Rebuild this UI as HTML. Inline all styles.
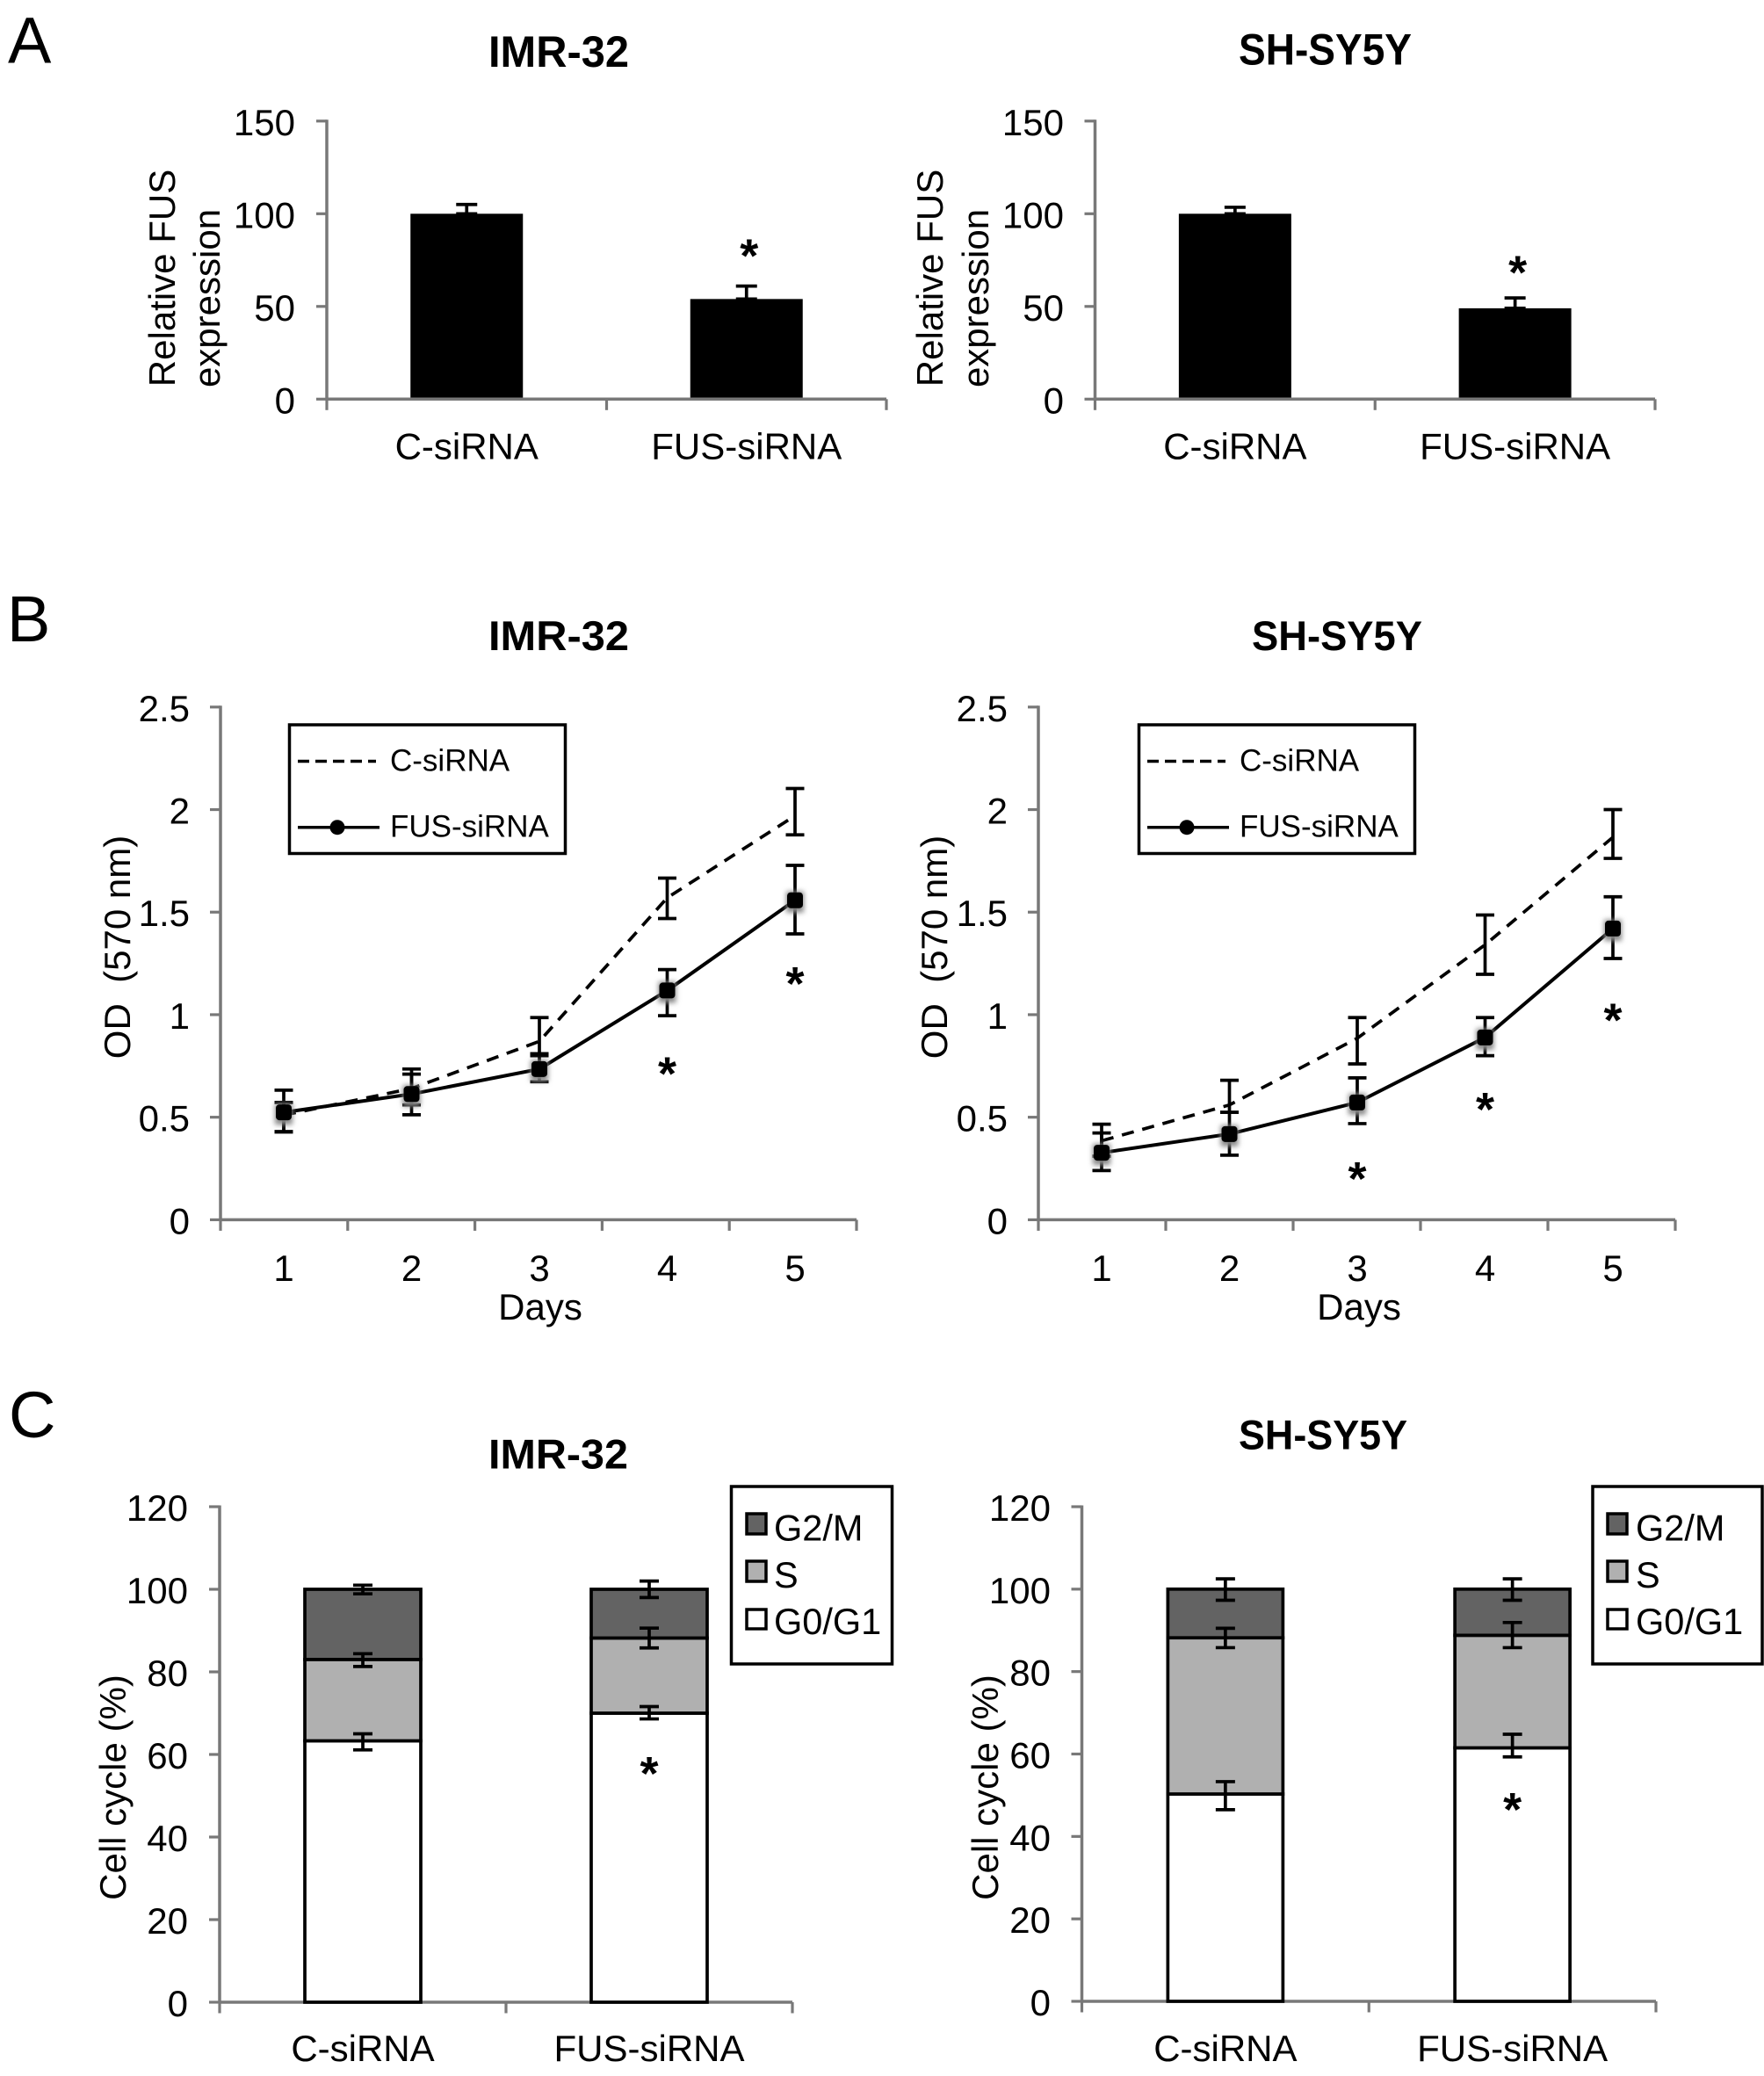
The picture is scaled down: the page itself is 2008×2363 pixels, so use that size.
<!DOCTYPE html>
<html lang="en">
<head>
<meta charset="utf-8">
<title>FUS knockdown figure</title>
<style>
html,body{margin:0;padding:0;background:#fff;}
svg{display:block;}
text{font-family:"Liberation Sans",sans-serif;fill:#000;white-space:pre;}
.title{font-size:47px;font-weight:bold;}
.title-a{font-size:50px;font-weight:bold;}
.panel{font-size:74px;}
.axt{font-size:42px;}
.leg{font-size:35px;}
.leg2{font-size:41.5px;}
</style>
</head>
<body>
<svg id="fig" xmlns="http://www.w3.org/2000/svg" width="2008" height="2363" viewBox="0 0 2008 2363">
<defs><filter id="halo" x="-60%" y="-60%" width="220%" height="220%"><feGaussianBlur stdDeviation="3"/></filter></defs>
<rect x="0" y="0" width="2008" height="2363" fill="#fff"/>

<text class="panel" x="9" y="71.5">A</text>
<text class="panel" x="8" y="730">B</text>
<text class="panel" x="10" y="1636">C</text>

<text class="title-a" x="556" y="76" textLength="160" lengthAdjust="spacingAndGlyphs">IMR-32</text>
<text class="title-a" x="1410" y="73.5" textLength="197" lengthAdjust="spacingAndGlyphs">SH-SY5Y</text>
<text class="title" x="556" y="740" textLength="160" lengthAdjust="spacingAndGlyphs">IMR-32</text>
<text class="title" x="1425" y="740" textLength="194" lengthAdjust="spacingAndGlyphs">SH-SY5Y</text>
<text class="title" x="556" y="1671.5" textLength="159" lengthAdjust="spacingAndGlyphs">IMR-32</text>
<text class="title" x="1410" y="1649.5" textLength="192" lengthAdjust="spacingAndGlyphs">SH-SY5Y</text>

<text class="axt" transform="translate(199,316.5) rotate(-90)" text-anchor="middle">Relative FUS</text>
<text class="axt" transform="translate(250,339.5) rotate(-90)" text-anchor="middle">expression</text>
<text class="axt" transform="translate(1073,316.5) rotate(-90)" text-anchor="middle">Relative FUS</text>
<text class="axt" transform="translate(1125,339.5) rotate(-90)" text-anchor="middle">expression</text>
<text class="axt" transform="translate(148,1078) rotate(-90)" text-anchor="middle">OD  (570 nm)</text>
<text class="axt" transform="translate(1078,1078) rotate(-90)" text-anchor="middle">OD  (570 nm)</text>
<text class="axt" transform="translate(143,2034.5) rotate(-90)" text-anchor="middle">Cell cycle (%)</text>
<text class="axt" transform="translate(1136,2034.5) rotate(-90)" text-anchor="middle">Cell cycle (%)</text>
<text class="axt" x="615" y="1502" text-anchor="middle">Days</text>
<text class="axt" x="1547" y="1502" text-anchor="middle">Days</text>

<g id="charts"></g>

<g>
  <rect x="329.5" y="825" width="314" height="146.5" fill="#fff" stroke="#000" stroke-width="3.5"/>
  <line x1="339" y1="866.5" x2="428" y2="866.5" stroke="#000" stroke-width="3.5" stroke-dasharray="13 7"/>
  <text class="leg" x="444" y="877.5">C-siRNA</text>
  <line x1="339" y1="941.7" x2="432" y2="941.7" stroke="#000" stroke-width="3.5"/>
  <circle cx="384" cy="941.7" r="8.5" fill="#000"/>
  <text class="leg" x="444" y="952.5">FUS-siRNA</text>
</g>
<g>
  <rect x="1296.5" y="825" width="314" height="146.5" fill="#fff" stroke="#000" stroke-width="3.5"/>
  <line x1="1306" y1="866.5" x2="1395" y2="866.5" stroke="#000" stroke-width="3.5" stroke-dasharray="13 7"/>
  <text class="leg" x="1411" y="877.5">C-siRNA</text>
  <line x1="1306" y1="941.7" x2="1399" y2="941.7" stroke="#000" stroke-width="3.5"/>
  <circle cx="1351" cy="941.7" r="8.5" fill="#000"/>
  <text class="leg" x="1411" y="952.5">FUS-siRNA</text>
</g>

<g>
  <rect x="832.5" y="1692" width="183" height="202" fill="#fff" stroke="#000" stroke-width="3.5"/>
  <rect x="850" y="1723" width="22" height="23" fill="#636363" stroke="#000" stroke-width="3.5"/>
  <text class="leg2" x="881" y="1753.5">G2/M</text>
  <rect x="850" y="1777" width="22" height="23" fill="#b0b0b0" stroke="#000" stroke-width="3.5"/>
  <text class="leg2" x="881" y="1807">S</text>
  <rect x="850" y="1832" width="22" height="22" fill="#fff" stroke="#000" stroke-width="3.5"/>
  <text class="leg2" x="881" y="1860">G0/G1</text>
</g>
<g>
  <rect x="1813" y="1692" width="193" height="202" fill="#fff" stroke="#000" stroke-width="3.5"/>
  <rect x="1830" y="1723" width="22" height="23" fill="#636363" stroke="#000" stroke-width="3.5"/>
  <text class="leg2" x="1862" y="1753.5">G2/M</text>
  <rect x="1830" y="1777" width="22" height="23" fill="#b0b0b0" stroke="#000" stroke-width="3.5"/>
  <text class="leg2" x="1862" y="1807">S</text>
  <rect x="1830" y="1832" width="22" height="22" fill="#fff" stroke="#000" stroke-width="3.5"/>
  <text class="leg2" x="1862" y="1860">G0/G1</text>
</g>
</svg>

<script>
// ---------- data ----------
const groupLabels = ['C-siRNA', 'FUS-siRNA'];
const dayLabels = ['1', '2', '3', '4', '5'];
const dayNumbers = [1, 2, 3, 4, 5];

const exprTicks = [0, 50, 100, 150];
const odTicks = [0, 0.5, 1, 1.5, 2, 2.5];
const cycleTicks = [0, 20, 40, 60, 80, 100, 120];

const exprImrValues = [100, 54];
const exprImrErrTop = [105, 61];
const exprImrStarValues = [null, 81];
const exprShValues = [100, 49];
const exprShErrTop = [103.5, 54.6];
const exprShStarValues = [null, 72];

const odImrControl = [0.51, 0.64, 0.87, 1.57, 1.97];
const odImrControlHigh = [0.632, 0.735, 0.986, 1.666, 2.103];
const odImrControlLow = [0.43, 0.56, 0.81, 1.469, 1.877];
const odImrFus = [0.524, 0.613, 0.735, 1.118, 1.558];
const odImrFusHigh = [0.572, 0.71, 0.80, 1.22, 1.728];
const odImrFusLow = [0.428, 0.512, 0.673, 0.995, 1.394];
const odImrStarDays = [4, 5];
const odImrStarValues = [0.746, 1.185];

const odShControl = [0.385, 0.56, 0.885, 1.341, 1.865];
const odShControlHigh = [0.466, 0.68, 0.986, 1.486, 2.0];
const odShControlLow = [0.31, 0.524, 0.76, 1.197, 1.762];
const odShFus = [0.327, 0.418, 0.572, 0.889, 1.42];
const odShFusHigh = [0.423, 0.524, 0.692, 0.986, 1.575];
const odShFusLow = [0.24, 0.315, 0.469, 0.80, 1.274];
const odShStarDays = [3, 4, 5];
const odShStarValues = [0.234, 0.571, 1.006];

const cycleImrG0G1 = [63.3, 70];
const cycleImrS = [19.7, 18.2];
const cycleImrG2M = [17, 11.8];
const cycleImrG0G1Err = [[61.1, 65], [68.6, 71.6]];
const cycleImrSErr = [[81.3, 84.4], [85.8, 90.6]];
const cycleImrG2MErr = [[98.9, 101], [98, 102]];
const cycleImrStarValues = [null, 57];

const cycleShG0G1 = [50.3, 61.5];
const cycleShS = [37.9, 27.3];
const cycleShG2M = [11.8, 11.2];
const cycleShG0G1Err = [[46.5, 53.3], [59.3, 64.8]];
const cycleShSErr = [[85.8, 90.5], [85.8, 91.9]];
const cycleShG2MErr = [[97.3, 102.5], [97.3, 102.5]];
const cycleShStarValues = [null, 48.2];

// ---------- helpers ----------
const NS = 'http://www.w3.org/2000/svg';
const root = document.getElementById('charts');
const AXIS = '#787878';

function mk(parent, tag, attrs, txt) {
  const el = document.createElementNS(NS, tag);
  for (const k in attrs) el.setAttribute(k, attrs[k]);
  if (txt !== undefined) el.textContent = txt;
  parent.appendChild(el);
  
  return el;
}

function linear(d0, d1, r0, r1) {
  return function (v) { return r0 + (v - d0) / (d1 - d0) * (r1 - r0); };
}

function drawAxes(g, geo, ticks, y, catLabels, catX) {
  let el = mk(g, 'line', {x1: geo.x0, y1: geo.y0, x2: geo.x0, y2: geo.yTop - 1.5, stroke: AXIS, 'stroke-width': 3.5});
  
  el = mk(g, 'line', {x1: geo.x0, y1: geo.y0, x2: geo.x1, y2: geo.y0, stroke: AXIS, 'stroke-width': 3.5});
  
  ticks.forEach(function (t) {
    const yy = y(t);
    let tk = mk(g, 'line', {x1: geo.x0 - 12, y1: yy, x2: geo.x0, y2: yy, stroke: AXIS, 'stroke-width': 3.2});
    
    tk = mk(g, 'text', {x: geo.labelRight, y: yy + 16, 'text-anchor': 'end', 'font-size': 42}, String(t));
    
  });
  const n = catLabels.length;
  const step = (geo.x1 - geo.x0) / n;
  for (let i = 0; i <= n; i++) {
    const xx = geo.x0 + i * step;
    const tk = mk(g, 'line', {x1: xx, y1: geo.y0, x2: xx, y2: geo.y0 + 12.5, stroke: AXIS, 'stroke-width': 3.2});
    
  }
  catLabels.forEach(function (lab, i) {
    const tk = mk(g, 'text', {x: catX(i), y: geo.catBase, 'text-anchor': 'middle', 'font-size': geo.catFont}, lab);
    
  });
}

function drawStar(g, cx, cy) {
  const el = mk(g, 'text', {x: cx, y: cy + 26, 'text-anchor': 'middle', 'font-size': 54, 'font-weight': 'bold'}, '*');
  
}

function errBar(g, cx, yHigh, yLow, cap, name) {
  let el = mk(g, 'line', {x1: cx, y1: yHigh, x2: cx, y2: yLow, stroke: '#000', 'stroke-width': 3.7});
  
  el = mk(g, 'line', {x1: cx - cap / 2, y1: yHigh, x2: cx + cap / 2, y2: yHigh, stroke: '#000', 'stroke-width': 3.7});
  
  el = mk(g, 'line', {x1: cx - cap / 2, y1: yLow, x2: cx + cap / 2, y2: yLow, stroke: '#000', 'stroke-width': 3.7});
  
}

// ---------- panel A: simple bars ----------
function barChart(name, geo, values, errTop, stars) {
  const g = mk(root, 'g', {});
  
  const y = linear(0, exprTicks[exprTicks.length - 1], geo.y0, geo.yTop);
  const band = (geo.x1 - geo.x0) / values.length;
  const x = function (i) { return geo.x0 + band * (i + 0.5); };
  values.forEach(function (v, i) {
    errBar(g, x(i), y(errTop[i]), y(v), 24, 'error-bar');
    const bar = mk(g, 'rect', {x: x(i) - geo.barW / 2, y: y(v), width: geo.barW, height: geo.y0 - y(v), fill: '#000'});
    
    if (stars[i] !== null) drawStar(g, x(i) + 3, y(stars[i]));
  });
  drawAxes(g, geo, exprTicks, y, groupLabels, x);
}

// ---------- panel B: lines ----------
function lineChart(name, geo, ctrl, ctrlHi, ctrlLo, fus, fusHi, fusLo, starDays, starVals) {
  const g = mk(root, 'g', {});
  
  const y = linear(0, odTicks[odTicks.length - 1], geo.y0, geo.yTop);
  const x = linear(dayNumbers[0] - 1, dayNumbers[dayNumbers.length - 1] - 1, geo.firstX, geo.lastX);
  const fmt = function (arr) { return arr.map(function (v, i) { return x(i).toFixed(1) + ',' + y(v).toFixed(1); }).join(' '); };
  drawAxes(g, geo, odTicks, y, dayLabels, x);

  let el = mk(g, 'polyline', {points: fmt(ctrl), fill: 'none', stroke: '#000', 'stroke-width': 3.7, 'stroke-dasharray': '14 10'});
  
  el = mk(g, 'polyline', {points: fmt(fus), fill: 'none', stroke: '#000', 'stroke-width': 4});
  

  dayNumbers.forEach(function (d, i) {
    errBar(g, x(i), y(ctrlHi[i]), y(ctrlLo[i]), 21, 'error-bar-c-sirna');
    errBar(g, x(i), y(fusHi[i]), y(fusLo[i]), 21, 'error-bar-fus-sirna');
    const cx = x(i), cy = y(fus[i]);
    let m = mk(g, 'rect', {x: cx - 10, y: cy - 10, width: 20, height: 24, fill: '#888', filter: 'url(#halo)'});
    
    m = mk(g, 'rect', {x: cx - 9, y: cy - 9, width: 18, height: 18, rx: 4, fill: '#000'});
    
  });
  starDays.forEach(function (d, i) {
    drawStar(g, x(dayNumbers.indexOf(d)), y(starVals[i]));
  });
}

// ---------- panel C: stacked bars ----------
function stackChart(name, geo, g0, s, g2, g0Err, sErr, g2Err, stars) {
  const g = mk(root, 'g', {});
  
  const y = linear(0, cycleTicks[cycleTicks.length - 1], geo.y0, geo.yTop);
  const band = (geo.x1 - geo.x0) / groupLabels.length;
  const x = function (i) { return geo.x0 + band * (i + 0.5); };
  drawAxes(g, geo, cycleTicks, y, groupLabels, x);
  groupLabels.forEach(function (lab, i) {
    const left = x(i) - geo.barW / 2;
    const t0 = g0[i], t1 = t0 + s[i], t2 = t1 + g2[i];
    let r = mk(g, 'rect', {x: left, y: y(t0), width: geo.barW, height: y(0) - y(t0), fill: '#fff', stroke: '#000', 'stroke-width': 3.7});
    
    r = mk(g, 'rect', {x: left, y: y(t1), width: geo.barW, height: y(t0) - y(t1), fill: '#b0b0b0', stroke: '#000', 'stroke-width': 3.7});
    
    r = mk(g, 'rect', {x: left, y: y(t2), width: geo.barW, height: y(t1) - y(t2), fill: '#636363', stroke: '#000', 'stroke-width': 3.7});
    
    errBar(g, x(i), y(g0Err[i][1]), y(g0Err[i][0]), 22, 'error-bar-g0g1');
    errBar(g, x(i), y(sErr[i][1]), y(sErr[i][0]), 22, 'error-bar-s');
    errBar(g, x(i), y(g2Err[i][1]), y(g2Err[i][0]), 22, 'error-bar-g2m');
    if (stars[i] !== null) drawStar(g, x(i), y(stars[i]));
  });
}

barChart('chart-a-imr32', {x0: 372, x1: 1009, y0: 454.3, yTop: 137.8, labelRight: 336, catBase: 522.5, catFont: 42, barW: 128},
  exprImrValues, exprImrErrTop, exprImrStarValues);
barChart('chart-a-shsy5y', {x0: 1246.5, x1: 1884, y0: 454.3, yTop: 137.8, labelRight: 1211, catBase: 522.5, catFont: 42, barW: 128},
  exprShValues, exprShErrTop, exprShStarValues);

lineChart('chart-b-imr32', {x0: 251, x1: 975, firstX: 323, lastX: 905, y0: 1388.4, yTop: 804.8, labelRight: 216, catBase: 1458, catFont: 42},
  odImrControl, odImrControlHigh, odImrControlLow, odImrFus, odImrFusHigh, odImrFusLow, odImrStarDays, odImrStarValues);
lineChart('chart-b-shsy5y', {x0: 1182, x1: 1907, firstX: 1254, lastX: 1836, y0: 1388.4, yTop: 804.8, labelRight: 1147, catBase: 1458, catFont: 42},
  odShControl, odShControlHigh, odShControlLow, odShFus, odShFusHigh, odShFusLow, odShStarDays, odShStarValues);

stackChart('chart-c-imr32', {x0: 250, x1: 902, y0: 2279, yTop: 1715, labelRight: 214, catBase: 2346, catFont: 42, barW: 132},
  cycleImrG0G1, cycleImrS, cycleImrG2M, cycleImrG0G1Err, cycleImrSErr, cycleImrG2MErr, cycleImrStarValues);
stackChart('chart-c-shsy5y', {x0: 1231.5, x1: 1885, y0: 2278, yTop: 1715, labelRight: 1196, catBase: 2346, catFont: 42, barW: 131},
  cycleShG0G1, cycleShS, cycleShG2M, cycleShG0G1Err, cycleShSErr, cycleShG2MErr, cycleShStarValues);
</script>
</body>
</html>
